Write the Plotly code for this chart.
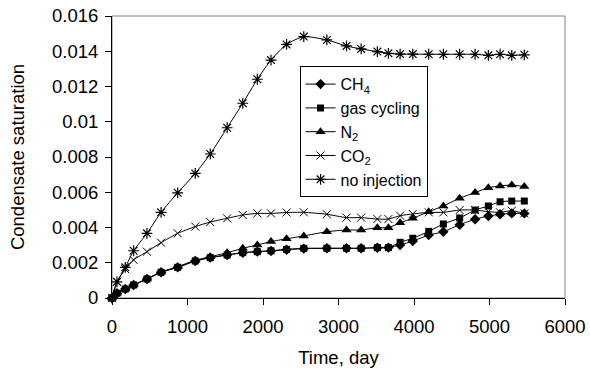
import plotly.graph_objects as go

time_days = [0, 66, 176, 286, 463, 650, 870, 1103, 1301, 1525, 1732, 1925, 2106, 2312,
             2540, 2846, 3106, 3300, 3515, 3661, 3816, 3984, 4195, 4389, 4605, 4809,
             4985, 5140, 5295, 5461]

ch4 = [0, 0.00027, 0.00051, 0.00074, 0.00108, 0.00146, 0.00174, 0.00210, 0.00229, 0.00244,
       0.00257, 0.00263, 0.00267, 0.00274, 0.00280, 0.00282, 0.00282, 0.00282, 0.00285,
       0.00286, 0.00301, 0.00323, 0.00357, 0.00376, 0.00416, 0.00447, 0.00465, 0.00475,
       0.00480, 0.00480]

gas_cycling = [0, 0.00027, 0.00051, 0.00074, 0.00108, 0.00146, 0.00174, 0.00210, 0.00229,
               0.00244, 0.00257, 0.00263, 0.00268, 0.00276, 0.00282, 0.00282, 0.00282,
               0.00282, 0.00286, 0.00286, 0.00316, 0.00339, 0.00378, 0.00420, 0.00454,
               0.00499, 0.00522, 0.00546, 0.00550, 0.00550]

n2 = [0, 0.00027, 0.00051, 0.00074, 0.00108, 0.00148, 0.00178, 0.00214, 0.00234, 0.00257,
      0.00282, 0.00301, 0.00320, 0.00336, 0.00352, 0.00376, 0.00386, 0.00386, 0.00399,
      0.00399, 0.00427, 0.00452, 0.00490, 0.00522, 0.00566, 0.00598, 0.00626, 0.00636,
      0.00641, 0.00632]

co2 = [0, 0.00092, 0.00163, 0.00216, 0.00263, 0.00314, 0.00367, 0.00405, 0.00431, 0.00452,
       0.00471, 0.00480, 0.00480, 0.00485, 0.00486, 0.00475, 0.00456, 0.00456, 0.00448,
       0.00448, 0.00467, 0.00477, 0.00486, 0.00486, 0.00499, 0.00499, 0.00490, 0.00486,
       0.00495, 0.00480]

no_injection = [0, 0.00092, 0.00174, 0.00268, 0.00367, 0.00486, 0.00597, 0.00707, 0.00817,
                0.00966, 0.01105, 0.01241, 0.01350, 0.01439, 0.01483, 0.01464, 0.01430,
                0.01413, 0.01398, 0.01388, 0.01384, 0.01384, 0.01383, 0.01383, 0.01383,
                0.01383, 0.01377, 0.01383, 0.01377, 0.01380]

series_names = ["CH<sub>4</sub>", "gas cycling", "N<sub>2</sub>", "CO<sub>2</sub>", "no injection"]
x_tick_vals = [0, 1000, 2000, 3000, 4000, 5000, 6000]
x_tick_text = ["0", "1000", "2000", "3000", "4000", "5000", "6000"]
y_tick_vals = [0, 0.002, 0.004, 0.006, 0.008, 0.01, 0.012, 0.014, 0.016]
y_tick_text = ["0", "0.002", "0.004", "0.006", "0.008", "0.01", "0.012", "0.014", "0.016"]

FONT = "Liberation Sans, Arial, sans-serif"

styles = [
    dict(symbol="diamond", size=8, line=dict(width=0)),
    dict(symbol="square", size=7, line=dict(width=0)),
    dict(symbol="triangle-up", size=9, line=dict(width=0)),
    dict(symbol="x-thin-open", size=8, line=dict(width=1, color="black")),
    dict(symbol="asterisk-open", size=9, line=dict(width=1.2, color="black")),
]

fig = go.Figure()
for name, ys, st in zip(series_names, [ch4, gas_cycling, n2, co2, no_injection], styles):
    fig.add_trace(go.Scatter(
        x=time_days, y=ys, name=name, mode="lines+markers",
        line=dict(color="black", width=1, shape="spline", smoothing=0.6),
        marker=dict(color="black", **st),
        cliponaxis=False,
    ))

fig.add_shape(type="rect", xref="x domain", yref="y domain", x0=0, x1=1, y0=0, y1=1,
              line=dict(color="#808080", width=1), layer="below")

fig.update_layout(
    width=590, height=370,
    margin=dict(l=112, r=25, t=16, b=72),
    paper_bgcolor="white", plot_bgcolor="white",
    font=dict(family=FONT, size=18.5, color="black"),
    showlegend=True,
    legend=dict(x=0.414, y=0.822, xanchor="left", yanchor="top",
                bgcolor="white", bordercolor="black", borderwidth=1,
                font=dict(family=FONT, size=16, color="black"),
                tracegroupgap=0, itemwidth=30),
    xaxis=dict(range=[0, 6000], tickvals=x_tick_vals, ticktext=x_tick_text,
               ticks="outside", ticklen=6, tickcolor="black", tickwidth=1,
               ticklabelstandoff=6, automargin=False,
               showline=True, linecolor="black", linewidth=1, showgrid=False,
               zeroline=False,
               title=dict(text="Time, day", font=dict(size=18.5), standoff=14)),
    yaxis=dict(range=[0, 0.016], tickvals=y_tick_vals, ticktext=y_tick_text,
               ticks="outside", ticklen=6, tickcolor="black", tickwidth=1,
               ticklabelstandoff=3, automargin=False,
               showline=True, linecolor="black", linewidth=1, showgrid=False,
               zeroline=False,
               title=dict(text="Condensate saturation", font=dict(size=18.5), standoff=22)),
)

fig.write_html("out.html")
